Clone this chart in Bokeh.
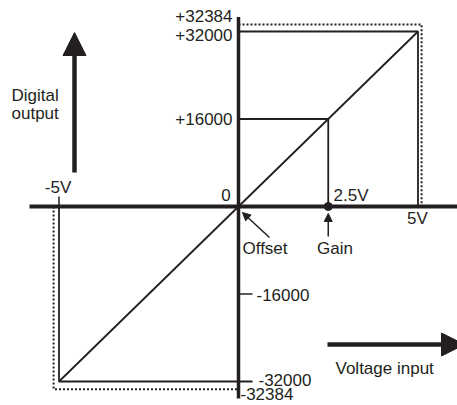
from bokeh.plotting import figure
from bokeh.models import Range1d, Arrow, NormalHead
from bokeh.core.properties import value
from bokeh.embed import file_html
from bokeh.resources import INLINE

# ---------------- data ----------------
full_volts = [-5.0, 5.0]            # -5V / +5V
full_counts = [-32000, 32000]       # digital value at -5V / +5V
gain_volt = 2.5                     # gain point
gain_count = 16000
neg_half_count = -16000
sat_volts = [-5.15, 5.10]           # dotted limit box as drawn
sat_counts = [-33400, 33300]

y_labels = ["+32384", "+32000", "+16000", "-16000", "-32000", "-32384"]
y_label_values = [32384, 32000, 16000, -16000, -32000, -32384]
x_labels = ["-5V", "2.5V", "5V", "0"]
x_label_values = [-5.0, 2.5, 5.0, 0.0]

# ---------------- layout ----------------
W, H = 457, 405
KX = 35.9            # px per volt
KY = 175 / 32000     # px per count
OX, OY = 238, 206    # origin in canvas px
INK = "#231f20"
FONT = "Liberation Sans"
FS = "17px"

p = figure(width=W, height=H, output_backend="svg", toolbar_location=None,
           x_range=Range1d(-OX / KX, (W - OX) / KX),
           y_range=Range1d(-(H - OY) / KY, OY / KY),
           min_border=0, x_axis_location=None, y_axis_location=None,
           outline_line_color=None, background_fill_color="white",
           border_fill_color="white")
p.grid.visible = False


def dx(px):
    return px / KX


def dy(px):
    return px / KY


# axes (thick lines)
p.line([dx(29 - OX), dx(W - OX + 5)], [0, 0], line_color=INK, line_width=4)
p.line([0, 0], [dy(OY - 16.5), dy(OY - 398)], line_color=INK, line_width=3.5)

# dotted limit box
p.line([0, sat_volts[1], sat_volts[1]], [sat_counts[1], sat_counts[1], 0],
       line_color=INK, line_width=2, line_dash="2 2")
p.line([sat_volts[0], sat_volts[0], 0], [0, sat_counts[0], sat_counts[0]],
       line_color=INK, line_width=2, line_dash="2 2")

LW = 1.8
# full-scale square lines
p.line([0, full_volts[1], full_volts[1]], [full_counts[1], full_counts[1], 0],
       line_color=INK, line_width=LW)
p.line([full_volts[0], full_volts[0], dx(14)], [0, full_counts[0], full_counts[0]],
       line_color=INK, line_width=LW)
# gain lines
p.line([0, gain_volt, gain_volt], [gain_count, gain_count, 0],
       line_color=INK, line_width=LW)
# -16000 tick and -5V tick
p.line([0, dx(14)], [neg_half_count, neg_half_count], line_color=INK, line_width=1.5)
p.line([full_volts[0], full_volts[0]], [0, dy(10)], line_color=INK, line_width=1.5)
# transfer line
p.line(full_volts, full_counts, line_color=INK, line_width=LW)

# gain dot
p.scatter([gain_volt], [0], size=8, color=INK)


# arrows
def head(size):
    return NormalHead(size=size, fill_color=INK, line_color=INK, line_width=1)


p.add_layout(Arrow(x_start=dx(74 - OX), y_start=dy(OY - 172), x_end=dx(74 - OX), y_end=dy(OY - 32),
                   line_color=INK, line_width=4.5, end=head(23)))
p.add_layout(Arrow(x_start=dx(327 - OX), y_start=dy(OY - 344), x_end=dx(464 - OX), y_end=dy(OY - 344),
                   line_color=INK, line_width=4.5, end=head(23)))
p.add_layout(Arrow(x_start=gain_volt, y_start=dy(-30), x_end=gain_volt, y_end=dy(-7),
                   line_color=INK, line_width=1.5, end=head(8)))
p.add_layout(Arrow(x_start=dx(31), y_start=dy(-31), x_end=dx(4), y_end=dy(-6),
                   line_color=INK, line_width=1.5, end=head(8)))

# y labels
p.text(x=[0] * len(y_labels), y=y_label_values, text=y_labels,
       x_offset=[-6, -6, -6, 18, 20, 2],
       y_offset=[-13.6, 3, -0.5, 0.5, -2, 10.5],
       text_align=["right", "right", "right", "left", "left", "left"],
       text_baseline="middle", text_font=value(FONT), text_font_size=FS,
       text_color=INK)

# x labels
p.text(x=x_label_values, y=[0] * len(x_labels), text=x_labels,
       x_offset=[-1, 5.25, -0.5, -12.5], y_offset=[-19, -11, 12, -12],
       text_align=["center", "left", "center", "center"],
       text_baseline="middle", text_font=value(FONT), text_font_size=FS,
       text_color=INK)

# annotation texts
p.text(x=[0, gain_volt], y=[0, 0], text=["Offset", "Gain"],
       x_offset=[4, 6.75], y_offset=[42, 42], text_align=["left", "center"],
       text_baseline="middle", text_font=value(FONT), text_font_size=FS,
       text_color=INK)
p.text(x=[dx(11 - OX)] * 2, y=[dy(OY - 95), dy(OY - 113)], text=["Digital", "output"],
       text_align="left", text_baseline="middle", text_font=value(FONT),
       text_font_size=FS, text_color=INK)
p.text(x=[dx(335 - OX)], y=[dy(OY - 368)], text=["Voltage input"],
       text_align="left", text_baseline="middle", text_font=value(FONT),
       text_font_size=FS, text_color=INK)

open("out.html", "w").write(file_html(p, INLINE))
